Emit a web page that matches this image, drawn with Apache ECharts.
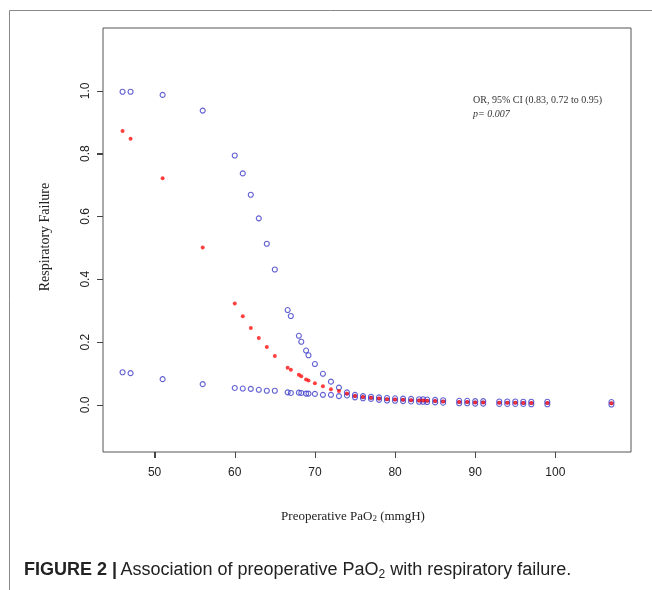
<!DOCTYPE html>
<html>
<head>
<meta charset="utf-8">
<script src="https://cdn.jsdelivr.net/npm/echarts@6/dist/echarts.min.js"></script>
<style>html,body{margin:0;padding:0;background:#fff}#c{width:652px;height:590px}</style>
</head>
<body>
<div id="c"></div>
<script>
const pao2 = [46, 47, 51, 56, 60, 61, 62, 63, 64, 65, 66.6, 67, 68, 68.3, 68.9, 69.2, 70, 71, 72, 73, 74, 75, 76, 77, 78, 79, 80, 81, 82, 83, 83.5, 84, 85, 86, 88, 89, 90, 91, 93, 94, 95, 96, 97, 99, 107];
const upperCI = [0.997, 0.997, 0.987, 0.937, 0.794, 0.737, 0.669, 0.594, 0.513, 0.431, 0.302, 0.283, 0.22, 0.201, 0.173, 0.158, 0.13, 0.099, 0.074, 0.055, 0.040, 0.032, 0.028, 0.026, 0.024, 0.022, 0.021, 0.020, 0.019, 0.018, 0.018, 0.017, 0.016, 0.015, 0.013, 0.013, 0.012, 0.012, 0.011, 0.011, 0.011, 0.010, 0.010, 0.010, 0.009];
const probability = [0.872, 0.847, 0.722, 0.501, 0.323, 0.282, 0.245, 0.213, 0.184, 0.156, 0.118, 0.112, 0.096, 0.091, 0.081, 0.078, 0.069, 0.059, 0.050, 0.044, 0.036, 0.028, 0.025, 0.023, 0.020, 0.018, 0.017, 0.016, 0.015, 0.014, 0.014, 0.013, 0.012, 0.011, 0.009, 0.009, 0.008, 0.008, 0.007, 0.007, 0.007, 0.006, 0.006, 0.006, 0.005];
const lowerCI = [0.104, 0.101, 0.082, 0.066, 0.054, 0.052, 0.051, 0.048, 0.045, 0.045, 0.040, 0.038, 0.039, 0.038, 0.036, 0.036, 0.035, 0.032, 0.032, 0.028, 0.030, 0.024, 0.021, 0.019, 0.016, 0.014, 0.013, 0.012, 0.011, 0.010, 0.010, 0.009, 0.008, 0.007, 0.005, 0.005, 0.004, 0.004, 0.003, 0.003, 0.003, 0.003, 0.002, 0.002, 0.001];
const xTicks = [50, 60, 70, 80, 90, 100];
const yTicks = [0, 0.2, 0.4, 0.6, 0.8, 1.0];

const pairs = arr => pao2.map((x, i) => [x, arr[i]]);
const chart = echarts.init(document.getElementById('c'), null, {renderer: 'canvas'});
const serif = '"Liberation Serif", "DejaVu Serif", serif';
const sans = '"Liberation Sans", Arial, sans-serif';
const blue = '#3a3ac8';
const X_MIN = 43.56, X_MAX = 109.44, Y_MIN = -0.15, Y_MAX = 1.2;
chart.setOption({
  animation: false,
  backgroundColor: '#fff',
  grid: {left: 103, top: 28, width: 528, height: 424, show: true, borderColor: '#555', borderWidth: 1, backgroundColor: 'transparent'},
  xAxis: {
    type: 'value', min: X_MIN, max: X_MAX, position: 'bottom',
    axisLine: {show: false, onZero: false},
    splitLine: {show: false},
    axisTick: {show: true, length: 6, lineStyle: {color: '#444', width: 1}, customValues: xTicks},
    axisLabel: {customValues: xTicks, margin: 15, color: '#222', fontSize: 12, fontFamily: sans}
  },
  yAxis: {
    type: 'value', min: Y_MIN, max: Y_MAX, position: 'left',
    axisLine: {show: false, onZero: false},
    splitLine: {show: false},
    axisTick: {show: true, length: 6, lineStyle: {color: '#444', width: 1}, customValues: yTicks},
    axisLabel: {customValues: yTicks, rotate: 90, margin: 11, color: '#222', fontSize: 12, fontFamily: sans,
      formatter: v => v.toFixed(1)}
  },
  series: [
    {type: 'scatter', data: pairs(upperCI), symbol: 'circle', symbolSize: 5,
      itemStyle: {color: 'rgba(0,0,0,0)', borderColor: blue, borderWidth: 1.1}},
    {type: 'scatter', data: pairs(lowerCI), symbol: 'circle', symbolSize: 5,
      itemStyle: {color: 'rgba(0,0,0,0)', borderColor: blue, borderWidth: 1.1}},
    {type: 'scatter', data: pairs(probability), symbol: 'circle', symbolSize: 4,
      itemStyle: {color: '#ff1010'}}
  ]
});

// axis ticks placed through the library's own scales (backup for the built-in ticks)
const toPx = (axis, v) => {
  const r = chart.convertToPixel(axis === 'x' ? {xAxisIndex: 0} : {yAxisIndex: 0}, v);
  return Array.isArray(r) ? r[axis === 'x' ? 0 : 1] : r;
};
const bottom = toPx('y', Y_MIN);
const left = toPx('x', X_MIN);
const tickStyle = {stroke: '#444', lineWidth: 1};
const tickGraphics = [];
if (isFinite(bottom) && isFinite(left)) {
  xTicks.forEach(v => {
    const px = Math.round(toPx('x', v)) + 0.5;
    tickGraphics.push({type: 'line', silent: true, z: 100, shape: {x1: px, y1: bottom, x2: px, y2: bottom + 6}, style: tickStyle});
  });
  yTicks.forEach(v => {
    const py = Math.round(toPx('y', v)) + 0.5;
    tickGraphics.push({type: 'line', silent: true, z: 100, shape: {x1: left - 6, y1: py, x2: left, y2: py}, style: tickStyle});
  });
}

chart.setOption({
  graphic: tickGraphics.concat([
    {type: 'line', shape: {x1: 9.5, y1: 10.5, x2: 652, y2: 10.5}, style: {stroke: '#888', lineWidth: 1}},
    {type: 'line', shape: {x1: 9.5, y1: 10.5, x2: 9.5, y2: 590}, style: {stroke: '#888', lineWidth: 1}},
    {type: 'text', x: 45, y: 237, rotation: Math.PI / 2,
      style: {text: 'Respiratory Failure', font: '14px ' + serif, fill: '#222', textAlign: 'center', textVerticalAlign: 'middle'}},
    {type: 'text', x: 353, y: 517,
      style: {text: 'Preoperative PaO{s|2} (mmgH)', font: '13px ' + serif, fill: '#222', textAlign: 'center', textVerticalAlign: 'middle',
        rich: {s: {fontSize: 9, fontFamily: serif, fill: '#222', verticalAlign: 'bottom'}}}},
    {type: 'text', x: 473, y: 100,
      style: {text: 'OR, 95% CI (0.83, 0.72 to 0.95)', font: '10px ' + serif, fill: '#333', textAlign: 'left', textVerticalAlign: 'middle'}},
    {type: 'text', x: 473, y: 114,
      style: {text: 'p= 0.007', font: 'italic 10px ' + serif, fill: '#333', textAlign: 'left', textVerticalAlign: 'middle'}},
    {type: 'text', x: 24, y: 570,
      style: {text: '{b|FIGURE 2 |} {n|Association of preoperative PaO}{sub|2}{n| with respiratory failure.}',
        textAlign: 'left', textVerticalAlign: 'middle',
        rich: {
          b: {fontSize: 18, fontWeight: 'bold', fontFamily: sans, fill: '#222'},
          n: {fontSize: 18, fontFamily: sans, fill: '#222'},
          sub: {fontSize: 12, fontFamily: sans, fill: '#222', verticalAlign: 'bottom', padding: [9, 0, 0, 0]}
        }}}
  ])
});
</script>
</body>
</html>
